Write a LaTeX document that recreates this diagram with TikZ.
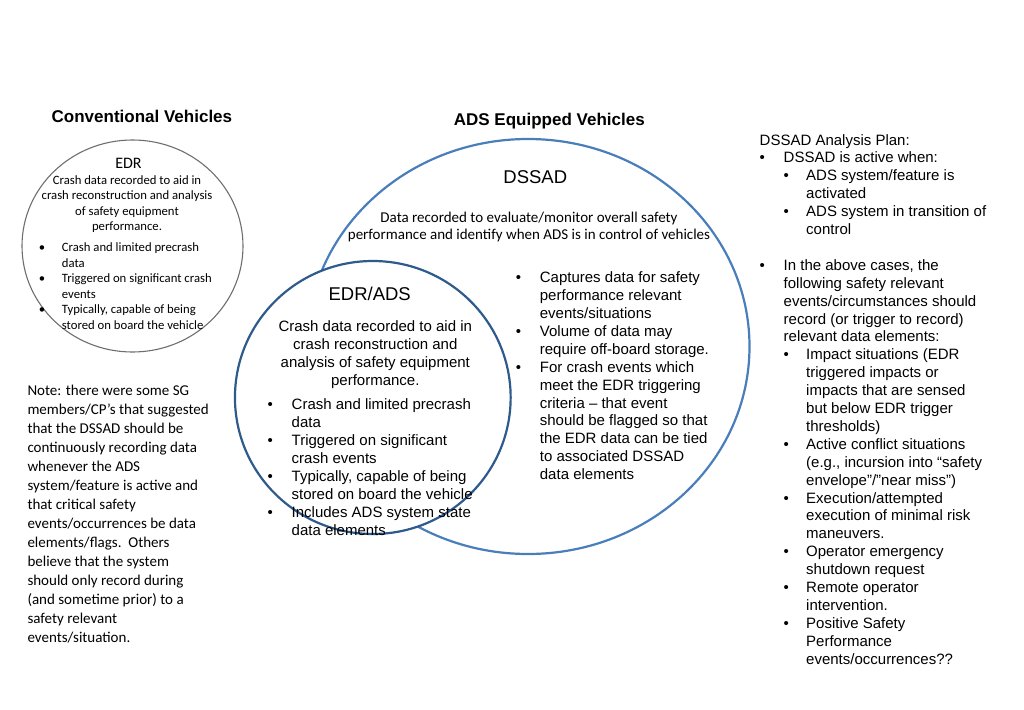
\documentclass[tikz,border=0pt]{standalone}
\usepackage{fontspec}
\setmainfont{Liberation Sans}
\newfontfamily\calibri{Carlito}
\usetikzlibrary{shapes.geometric}

\definecolor{dssadblue}{HTML}{4A7EBB}
\definecolor{edrblue}{HTML}{2E5A8C}
\definecolor{edrgray}{HTML}{6E6E6E}

% bullet helpers
\newcommand{\bi}{\makebox[24pt][l]{\textbullet}}
\newcommand{\bc}{\hspace*{24pt}}
\newcommand{\bii}{\hspace*{24pt}\makebox[22.5pt][l]{\textbullet}}
\newcommand{\bcc}{\hspace*{46.5pt}}
\newcommand{\sbi}{\makebox[23pt][l]{\textbullet}}
\newcommand{\sbc}{\hspace*{23pt}}

\begin{document}
\begin{tikzpicture}[x=1pt, y=-1pt]

	% Define styles
	\tikzstyle{ringgray} = [ellipse, draw=edrgray, line width=1.1pt, inner sep=0pt]
	\tikzstyle{ringlight} = [ellipse, draw=dssadblue, line width=2.2pt, inner sep=0pt]
	\tikzstyle{ringdark} = [ellipse, draw=edrblue, fill=white, line width=2.2pt, inner sep=0pt]
	\tikzstyle{headtext} = [inner sep=0pt, anchor=base, font=\fontsize{17}{20}\selectfont\bfseries]
	\tikzstyle{bigname} = [inner sep=0pt, anchor=base, font=\fontsize{18.5}{22}\selectfont]
	\tikzstyle{centtext} = [inner sep=0pt, anchor=base, align=center]
	\tikzstyle{listtext} = [inner sep=0pt, anchor=base west, align=left]

	\useasboundingbox (0,0) rectangle (1024,709);

	% Circles (EDR/ADS hides the DSSAD ring behind it)
	\node[ringgray, minimum width=221pt, minimum height=212pt] (edr) at (132.5,246) {};
	\node[ringlight, minimum width=443pt, minimum height=415pt] (dssad) at (528,346.5) {};
	\node[ringdark, minimum width=275.7pt, minimum height=273pt] (edrads) at (372.8,397.5) {};

	% Titles
	\node[headtext] (conv) at (141.9,122) {Conventional Vehicles};
	\node[headtext] (ads) at (549.3,125) {ADS Equipped Vehicles};

	% Conventional EDR (multi-line texts sit on their last baseline)
	\node[inner sep=0pt, anchor=base, font=\calibri\fontsize{16}{19}\selectfont] (edrname) at (128.5,168.3) {EDR};
	\node[centtext, font=\calibri\fontsize{12.7}{15.5}\selectfont] (edrdesc) at (127,230.8)
		{Crash data recorded to aid in\\crash reconstruction and analysis\\of safety equipment\\performance.};
	\node[listtext, font=\calibri\fontsize{12.7}{15.5}\selectfont] (edrlist) at (38.7,329.2)
		{\sbi Crash and limited precrash\\\sbc data\\\sbi Triggered on significant crash\\\sbc events\\\sbi Typically, capable of being\\\sbc stored on board the vehicle};

	% DSSAD
	\node[bigname] (dssadname) at (535.3,183.3) {DSSAD};
	\node[centtext, font=\calibri\fontsize{15}{17}\selectfont] (dssaddesc) at (529,239)
		{Data recorded to evaluate/monitor overall safety\\performance and identify when ADS is in control of vehicles};
	\node[listtext, font=\fontsize{15}{17.9}\selectfont] (dssadlist) at (515.7,479.6)
		{\bi Captures data for safety\\\bc performance relevant\\\bc events/situations\\\bi Volume of data may\\\bc require off-board storage.\\\bi For crash events which\\\bc meet the EDR triggering\\\bc criteria – that event\\\bc should be flagged so that\\\bc the EDR data can be tied\\\bc to associated DSSAD\\\bc data elements};

	% EDR/ADS
	\node[bigname] (edradsname) at (369.7,300) {EDR/ADS};
	\node[centtext, font=\fontsize{15}{17.8}\selectfont] (edradsdesc) at (375.3,385.1)
		{Crash data recorded to aid in\\crash reconstruction and\\analysis of safety equipment\\performance.};
	\node[listtext, font=\fontsize{15}{17.86}\selectfont] (edradslist) at (267.5,535)
		{\bi Crash and limited precrash\\\bc data\\\bi Triggered on significant\\\bc crash events\\\bi Typically, capable of being\\\bc stored on board the vehicle\\\bi Includes ADS system state\\\bc data elements};

	% Analysis plan
	\node[listtext, font=\fontsize{15}{17.9}\selectfont] (plan) at (759.5,664.1)
		{DSSAD Analysis Plan:\\\bi DSSAD is active when:\\\bii ADS system/feature is\\\bcc activated\\\bii ADS system in transition of\\\bcc control\\[17.9pt]\bi In the above cases, the\\\bc following safety relevant\\\bc events/circumstances should\\\bc record (or trigger to record)\\\bc relevant data elements:\\\bii Impact situations (EDR\\\bcc triggered impacts or\\\bcc impacts that are sensed\\\bcc but below EDR trigger\\\bcc thresholds)\\\bii Active conflict situations\\\bcc (e.g., incursion into “safety\\\bcc envelope”/”near miss”)\\\bii Execution/attempted\\\bcc execution of minimal risk\\\bcc maneuvers.\\\bii Operator emergency\\\bcc shutdown request\\\bii Remote operator\\\bcc intervention.\\\bii Positive Safety\\\bcc Performance\\\bcc events/occurrences??};

	% Note
	\node[listtext, font=\calibri\fontsize{15}{19.06}\selectfont] (note) at (27.3,642.8)
		{Note: there were some SG\\members/CP’s that suggested\\that the DSSAD should be\\continuously recording data\\whenever the ADS\\system/feature is active and\\that critical safety\\events/occurrences be data\\elements/flags.\ \ Others\\believe that the system\\should only record during\\(and sometime prior) to a\\safety relevant\\events/situation.};

\end{tikzpicture}
\end{document}
